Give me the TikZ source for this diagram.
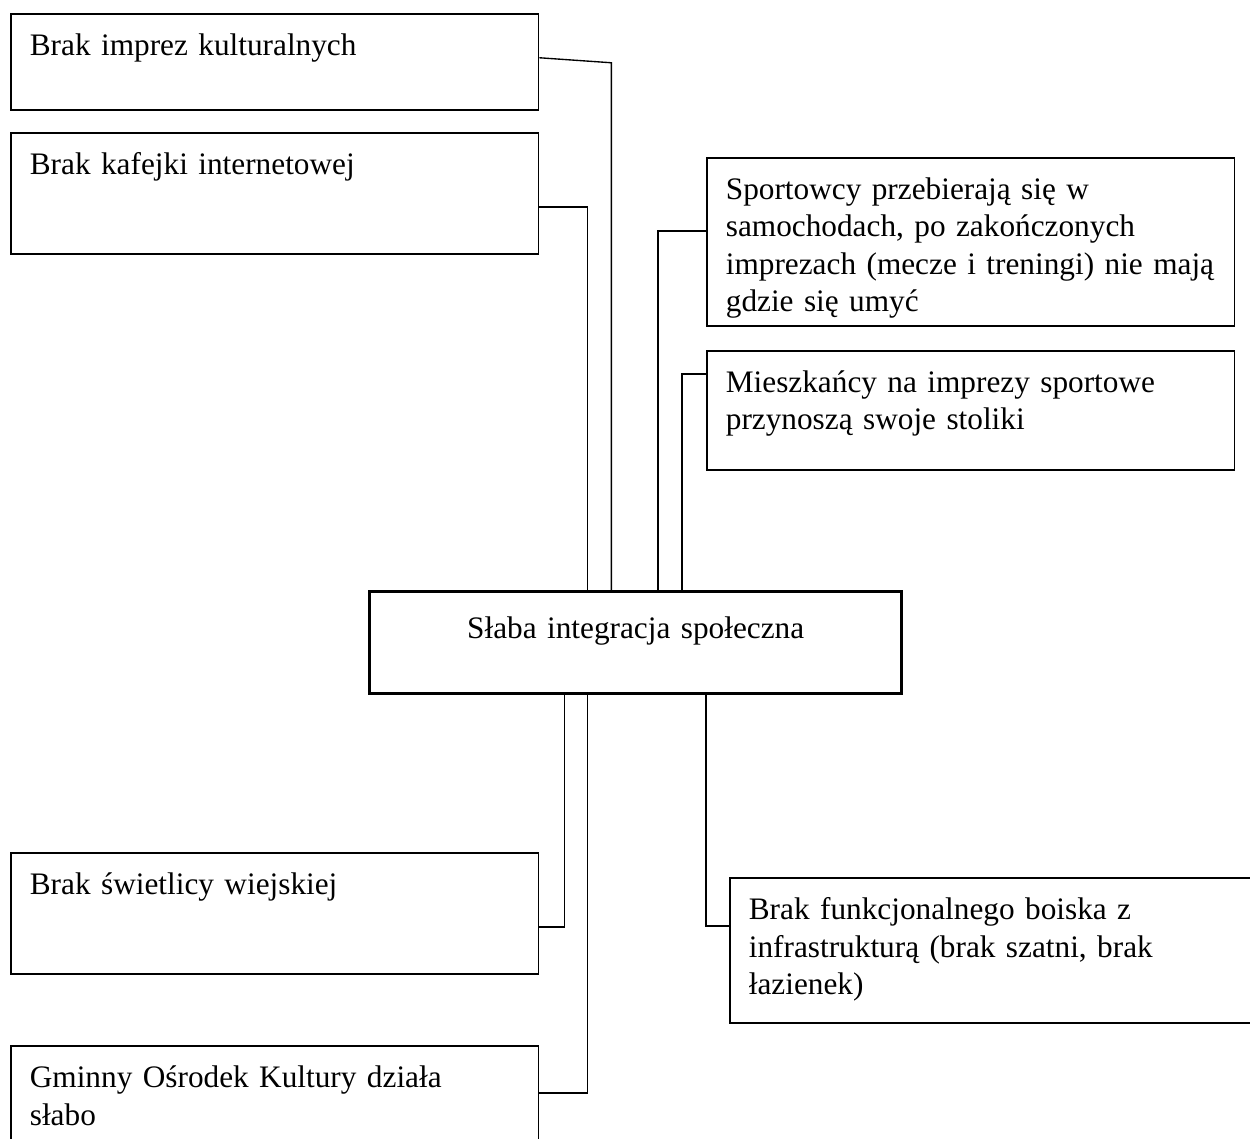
\documentclass[tikz,border=0pt]{standalone}
\usepackage{fontspec}
\setmainfont{Liberation Serif}
\begin{document}
\begin{tikzpicture}[
    x=0.3676pt, y=-0.3676pt,
    every node/.style={font=\fontsize{11.5pt}{13.7pt}\selectfont},
    cause/.style={rectangle, draw, line width=0.6pt, anchor=north west, align=left, text width=180pt, inner xsep=7pt, inner ysep=7pt, text height=8.4pt, text depth=#1},
    problem/.style={rectangle, draw, line width=1.2pt, anchor=north west, align=center, text width=181.6pt, inner xsep=7pt, inner ysep=9pt, text height=8.4pt, text depth=11.1pt},
    link/.style={line width=0.5pt}
]
\clip (0,0) rectangle (1250,1138);

% Central problem
\node[problem] (weak) at (368,590) {Słaba integracja społeczna};

% Causes (left side, top)
\node[cause=12.9pt] (b1) at (10,13) {Brak imprez kulturalnych};
\node[cause=22.1pt] (b2) at (10,132) {Brak kafejki internetowej};

% Causes (right side, top)
\node[cause=39.4pt] (b3) at (706,157) {Sportowcy przebierają się w\\samochodach, po zakończonych\\imprezach (mecze i treningi) nie mają\\gdzie się umyć};
\node[cause=21.3pt] (b4) at (706,350) {Mieszkańcy na imprezy sportowe\\przynoszą swoje stoliki};

% Causes (bottom)
\node[cause=22.1pt] (b6) at (10,852) {Brak świetlicy wiejskiej};
\node[cause=22.1pt] (b7) at (10,1045) {Gminny Ośrodek Kultury działa\\słabo};
\node[cause=30.9pt] (b8) at (729,877) {Brak funkcjonalnego boiska z\\infrastrukturą (brak szatni, brak\\łazienek)};

% Connections - top
\draw[link] ([yshift=1.5pt]b1.east) -- ++(72,5) coordinate (k1) -- (k1 |- weak.north);
\draw[link] ([yshift=-5pt]b2.east) -- ++(48,0) coordinate (k2) -- (k2 |- weak.north);
\draw[link] ([yshift=4pt]b3.west) -- ++(-48,0) coordinate (k3) -- (k3 |- weak.north);
\draw[link] ([yshift=13.4pt]b4.west) -- ++(-24,0) coordinate (k4) -- (k4 |- weak.north);

% Connections - bottom
\draw[link] ([yshift=-5pt]b6.east) -- ++(25,0) coordinate (k6) -- (k6 |- weak.south);
\draw[link] ([yshift=-17.6pt]b7.north east) -- ++(48,0) coordinate (k7) -- (k7 |- weak.south);
\draw[link] ([yshift=9pt]b8.west) -- ++(-23,0) coordinate (k8) -- (k8 |- weak.south);

\end{tikzpicture}
\end{document}
